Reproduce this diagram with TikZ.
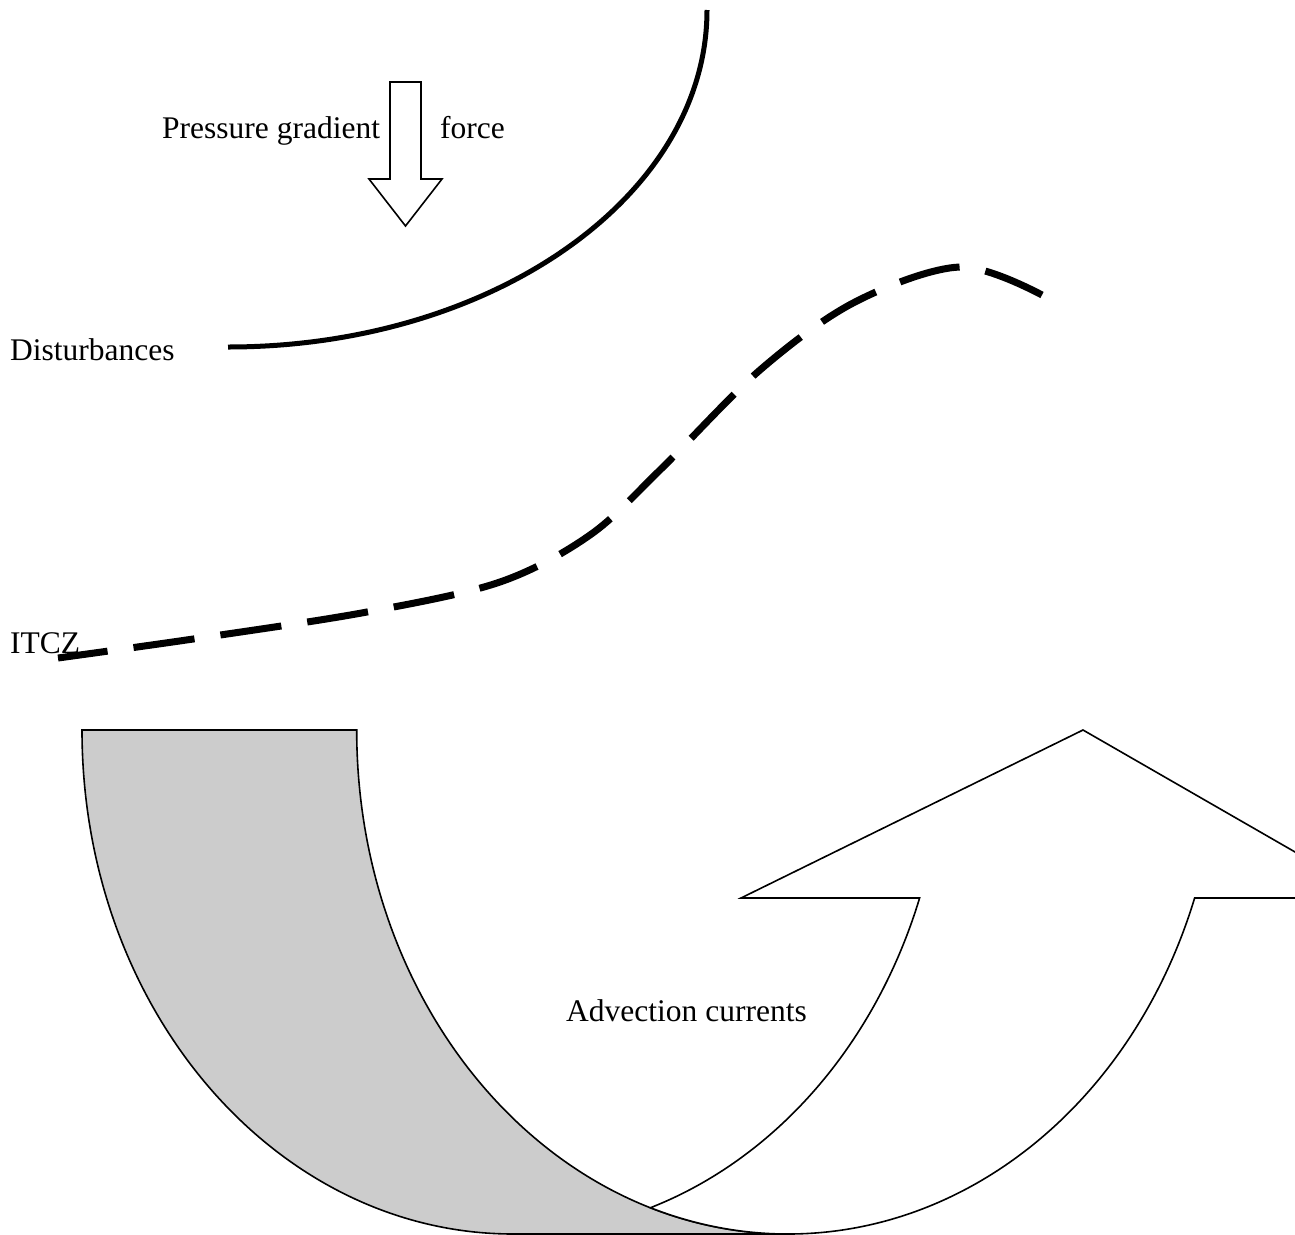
\documentclass[tikz,border=0pt]{standalone}
\usepackage{fontspec}
\setmainfont{Liberation Serif}
\begin{document}
\begin{tikzpicture}[x=1pt,y=1pt,
  lbl/.style={anchor=base west, inner sep=0pt, font=\fontsize{31.5}{36}\selectfont},
  outl/.style={draw=black, line width=1.6pt, line join=miter},
  thickcurve/.style={draw=black, line width=5pt},
  dashcurve/.style={draw=black, line width=7pt, dash pattern=on 61.6pt off 26.2pt, dash phase=0pt}]
\useasboundingbox (0,0) rectangle (1295,-1234);
\clip (0,0) rectangle (1295,-1234);
% labels
\node[lbl] (pg) at (162,-138) {Pressure gradient};
\node[lbl] (force) at (440,-138) {force};
\node[lbl] (dist) at (10,-360) {Disturbances};
\node[lbl] (itcz) at (10,-653) {ITCZ};
% solid curve (disturbance line)
\draw[thickcurve] (707,-10) arc[start angle=0, end angle=-90, x radius=479, y radius=337];
% down block arrow
\draw[outl, fill=white] (390,-82) -- (421,-82) -- (421,-179) -- (442,-179) -- (405.5,-226)
   -- (369,-179) -- (390,-179) -- cycle;
% dashed ITCZ line (drawn from its right end)
\draw[dashcurve] plot[smooth, tension=0.55] coordinates
  {(1042,-295) (960,-267) (855,-302) (760,-370) (660,-470) (590,-535) (500,-582) (367,-612) (200,-638) (58,-658)};
% curved up arrow: shaded back part
\draw[outl, fill=black!20] (82,-730) arc[start angle=180, end angle=270, x radius=431.3, y radius=504]
   -- (788,-1234) arc[start angle=270, end angle=180, x radius=431.3, y radius=504] -- cycle;
% curved up arrow: front part with head
\draw[outl, fill=white] (788,-1234) arc[start angle=270, end angle=340.53, x radius=431.3, y radius=504]
   -- (1375,-898) -- (1083,-730) -- (741,-898) -- (919.6,-898)
   arc[start angle=-19.47, end angle=-71.41, x radius=431.3, y radius=504]
   arc[start angle=251.41, end angle=270, x radius=431.3, y radius=504] -- cycle;
\node[lbl] (adv) at (566,-1021) {Advection currents};
\end{tikzpicture}
\end{document}
